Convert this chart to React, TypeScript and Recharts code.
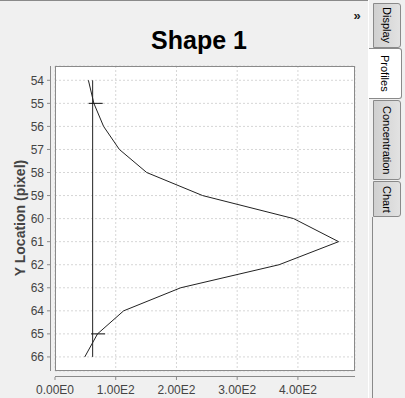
import React from 'react';
import { ScatterChart, Scatter, XAxis, YAxis, CartesianGrid } from 'recharts';

// profile along the shape: y pixel row -> summed intensity
const yLocations = [54, 55, 56, 57, 58, 59, 60, 61, 62, 63, 64, 65, 66];
const intensity = [55, 64, 80, 106, 151, 243, 393, 467, 369, 207, 113, 70, 49];

// background level drawn as a vertical line
const baselineValue = 62;
const baselineRows = [54, 66];

// edge markers (half maximum rows)
const markerRows = [55, 65];
const markerValues = [67, 71];

const xTicks = [0, 100, 200, 300, 400];
const yTicks = yLocations;
const tabs = ['Display', 'Profiles', 'Concentration', 'Chart'];

const profileData = yLocations.map((y, i) => ({ x: intensity[i], y }));
const baselineData = baselineRows.map((y) => ({ x: baselineValue, y }));
const markerData = markerRows.map((y, i) => ({ x: markerValues[i], y }));

const FONT = '"Liberation Sans", Arial, sans-serif';
const AXIS_GREY = '#8a8a8a';
const TICK_TEXT = '#444444';

function formatSci(v: number) {
  if (v === 0) return '0.00E0';
  const exp = Math.floor(Math.log10(Math.abs(v)));
  return `${(v / Math.pow(10, exp)).toFixed(2)}E${exp}`;
}

const YTick = (props: any) => {
  const { x, y, payload } = props;
  return (
    <g>
      <line x1={x + 3} x2={x + 6} y1={y} y2={y} stroke={AXIS_GREY} />
      <text x={x} y={y} dy="0.36em" textAnchor="end" fontSize={12} fill={TICK_TEXT} fontFamily={FONT}>
        {payload.value}
      </text>
    </g>
  );
};

const XTick = (props: any) => {
  const { x, y, payload } = props;
  return (
    <g>
      <line x1={x} x2={x} y1={y - 8} y2={y - 5} stroke={AXIS_GREY} />
      <text x={x} y={y} dy="0.71em" textAnchor="middle" fontSize={12} fill={TICK_TEXT} fontFamily={FONT}>
        {formatSci(payload.value)}
      </text>
    </g>
  );
};

const noDot = () => <g />;
const hMarker = (p: any) => (
  <line x1={p.cx - 7} x2={p.cx + 7} y1={p.cy} y2={p.cy} stroke="#111" strokeWidth={1} />
);

const tabBox = [
  { top: 3, height: 45, selected: false },
  { top: 48, height: 51, selected: true },
  { top: 100, height: 80, selected: false },
  { top: 181, height: 36, selected: false },
];

export default function App() {
  return (
    <div
      style={{
        position: 'absolute',
        left: 0,
        top: 0,
        width: 405,
        height: 398,
        background: '#f0f0f0',
        overflow: 'hidden',
        fontFamily: FONT,
      }}
    >
      <ScatterChart
        width={365}
        height={398}
        margin={{ top: 66, right: 10, bottom: 0, left: 0 }}
        style={{ position: 'absolute', left: 0, top: 0 }}
      >
        <CartesianGrid strokeDasharray="2 2" stroke="#d6d6d6" fill="#ffffff" />
        <XAxis
          type="number"
          dataKey="x"
          domain={[0, 494]}
          ticks={xTicks}
          allowDataOverflow
          axisLine={false}
          tickLine={false}
          tickSize={6}
          tickMargin={8}
          height={27}
          tick={<XTick />}
        />
        <YAxis
          type="number"
          dataKey="y"
          domain={[53.38, 66.61]}
          ticks={yTicks}
          reversed
          allowDataOverflow
          axisLine={false}
          tickLine={false}
          tickSize={6}
          tickMargin={5}
          width={55}
          tick={<YTick />}
        />
        <Scatter
          data={baselineData}
          line={{ stroke: '#222', strokeWidth: 1 }}
          shape={noDot}
          isAnimationActive={false}
        />
        <Scatter
          data={profileData}
          line={{ stroke: '#222', strokeWidth: 1 }}
          shape={noDot}
          isAnimationActive={false}
        />
        <Scatter data={markerData} shape={hMarker} isAnimationActive={false} />
      </ScatterChart>

      <svg width={405} height={398} style={{ position: 'absolute', left: 0, top: 0, pointerEvents: 'none' }}>
        <line x1={0} x2={368} y1={0.5} y2={0.5} stroke="#8a8a8a" />
        <line x1={368.5} x2={368.5} y1={0} y2={398} stroke="#ffffff" />
        <rect x={55.5} y={66.5} width={299} height={304} fill="none" stroke={AXIS_GREY} />
        <line x1={50.5} x2={50.5} y1={66} y2={371} stroke={AXIS_GREY} />
        <line x1={55} x2={355} y1={376.5} y2={376.5} stroke={AXIS_GREY} />
        <text x={199} y={49} textAnchor="middle" fontSize={25} fontWeight="bold" fill="#000" fontFamily={FONT}>
          Shape 1
        </text>
        <text
          x={0}
          y={0}
          transform="translate(25 218) rotate(-90)"
          textAnchor="middle"
          fontSize={14}
          fontWeight="bold"
          fill={TICK_TEXT}
          fontFamily={FONT}
        >
          Y Location (pixel)
        </text>
        <text x={357} y={20} textAnchor="middle" fontSize={13} fontWeight="bold" fill="#222" fontFamily={FONT}>
          »
        </text>
        <line x1={372.5} x2={372.5} y1={217} y2={398} stroke="#8a8a8a" />
      </svg>

      {tabs.map((t, i) => {
        const b = tabBox[i];
        return (
          <div
            key={t}
            style={{
              position: 'absolute',
              left: b.selected ? 369 : 373,
              top: b.top,
              width: b.selected ? 33 : 28,
              height: b.height,
              boxSizing: 'border-box',
              border: '1px solid #8a8a8a',
              borderLeft: b.selected ? 'none' : '1px solid #8a8a8a',
              borderRadius: '0 3px 3px 0',
              background: b.selected ? '#ffffff' : 'linear-gradient(to right, #d0d0d0, #e2e2e2)',
              display: 'flex',
              alignItems: 'center',
              justifyContent: 'center',
              writingMode: 'vertical-rl',
              fontSize: 11,
              color: '#000',
              fontFamily: FONT,
            }}
          >
            {t}
          </div>
        );
      })}
    </div>
  );
}
